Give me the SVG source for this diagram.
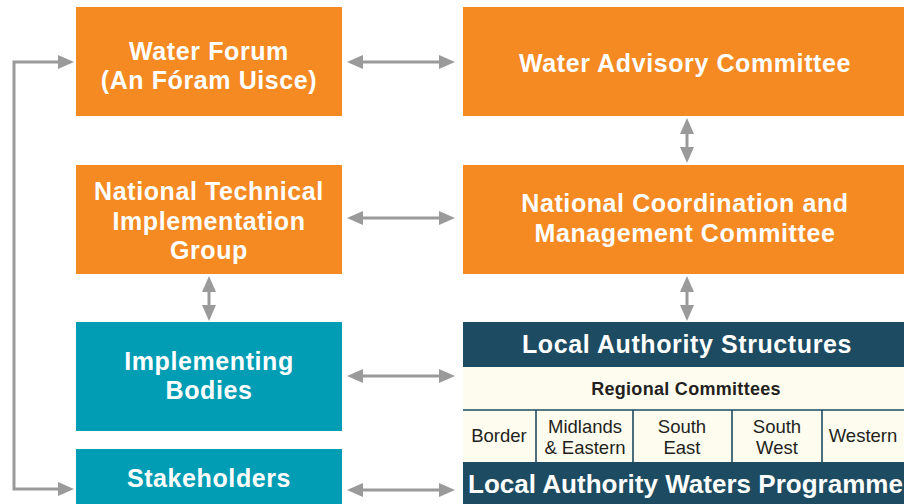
<svg xmlns="http://www.w3.org/2000/svg" width="904" height="504" viewBox="0 0 904 504">
<style>
.orange{fill:#F58A22}
.teal{fill:#009DB5}
.navy{fill:#1D4B61}
.cream{fill:#FEFCEF}
.t{font-family:"Liberation Sans",Arial,sans-serif;font-weight:bold;fill:#fff;text-anchor:middle}
.big{font-size:25px;letter-spacing:0.6px}
.rc{font-family:"Liberation Sans",Arial,sans-serif;font-weight:bold;font-size:18px;letter-spacing:0.3px;fill:#231f20;text-anchor:middle}
.reg{font-family:"Liberation Sans",Arial,sans-serif;font-size:18.5px;fill:#231f20;text-anchor:middle}
.conn{fill:none;stroke:#9A9A9A;stroke-width:3}
.div{stroke:#1D4B61;stroke-width:1.6}
</style>
<defs>
<marker id="ah" viewBox="0 0 16 14" refX="8" refY="7" markerWidth="16" markerHeight="14" markerUnits="userSpaceOnUse" orient="auto-start-reverse">
<path d="M0,0 L16,7 L0,14 Z" fill="#9A9A9A"/>
</marker>
</defs>
<rect width="904" height="504" fill="#fff"/>

<g id="connectors">
<path class="conn" d="M66,62 H14 V489 H66" marker-start="url(#ah)" marker-end="url(#ah)"/>
<line class="conn" x1="355" y1="62" x2="447" y2="62" marker-start="url(#ah)" marker-end="url(#ah)"/>
<line class="conn" x1="355" y1="218" x2="447" y2="218" marker-start="url(#ah)" marker-end="url(#ah)"/>
<line class="conn" x1="355" y1="376" x2="447" y2="376" marker-start="url(#ah)" marker-end="url(#ah)"/>
<line class="conn" x1="355" y1="490" x2="447" y2="490" marker-start="url(#ah)" marker-end="url(#ah)"/>
<line class="conn" x1="687" y1="126" x2="687" y2="155" marker-start="url(#ah)" marker-end="url(#ah)"/>
<line class="conn" x1="687" y1="284" x2="687" y2="313" marker-start="url(#ah)" marker-end="url(#ah)"/>
<line class="conn" x1="209" y1="284" x2="209" y2="313" marker-start="url(#ah)" marker-end="url(#ah)"/>
</g>

<g id="water-forum">
<rect class="orange" x="76" y="7" width="266" height="109"/>
<text class="t big" x="209" y="60">Water Forum</text>
<text class="t big" x="209" y="89">(An Fóram Uisce)</text>
</g>

<g id="water-advisory-committee">
<rect class="orange" x="463" y="7" width="441" height="109"/>
<text class="t big" x="685" y="72">Water Advisory Committee</text>
</g>

<g id="ntig">
<rect class="orange" x="76" y="165" width="266" height="109"/>
<text class="t big" x="209" y="200">National Technical</text>
<text class="t big" x="209" y="230">Implementation</text>
<text class="t big" x="209" y="259">Group</text>
</g>

<g id="ncmc">
<rect class="orange" x="463" y="165" width="441" height="109"/>
<text class="t big" x="685" y="212">National Coordination and</text>
<text class="t big" x="685" y="242">Management Committee</text>
</g>

<g id="implementing-bodies">
<rect class="teal" x="76" y="322" width="266" height="109"/>
<text class="t big" x="209" y="370">Implementing</text>
<text class="t big" x="209" y="399">Bodies</text>
</g>

<g id="stakeholders">
<rect class="teal" x="76" y="449" width="266" height="60"/>
<text class="t big" x="209" y="487">Stakeholders</text>
</g>

<g id="local-authority-structures">
<rect class="navy" x="463" y="322" width="441" height="45"/>
<text class="t big" x="687" y="353">Local Authority Structures</text>
<rect class="cream" x="463" y="367" width="441" height="95"/>
<text class="rc" x="686" y="395">Regional Committees</text>
<line class="div" x1="463" y1="410" x2="904" y2="410"/>
<line class="div" x1="536" y1="410" x2="536" y2="462"/>
<line class="div" x1="633" y1="410" x2="633" y2="462"/>
<line class="div" x1="732" y1="410" x2="732" y2="462"/>
<line class="div" x1="822" y1="410" x2="822" y2="462"/>
<text class="reg" x="499" y="442">Border</text>
<text class="reg" x="585" y="433">Midlands</text>
<text class="reg" x="585" y="454">&amp; Eastern</text>
<text class="reg" x="682" y="433">South</text>
<text class="reg" x="682" y="454">East</text>
<text class="reg" x="777" y="433">South</text>
<text class="reg" x="777" y="454">West</text>
<text class="reg" x="863" y="442">Western</text>
</g>

<g id="local-authority-waters-programme">
<rect class="navy" x="463" y="462" width="441" height="42"/>
<text class="t big" x="468" y="493" style="text-anchor:start;letter-spacing:0" textLength="435" lengthAdjust="spacingAndGlyphs">Local Authority Waters Programme</text>
</g>
</svg>
